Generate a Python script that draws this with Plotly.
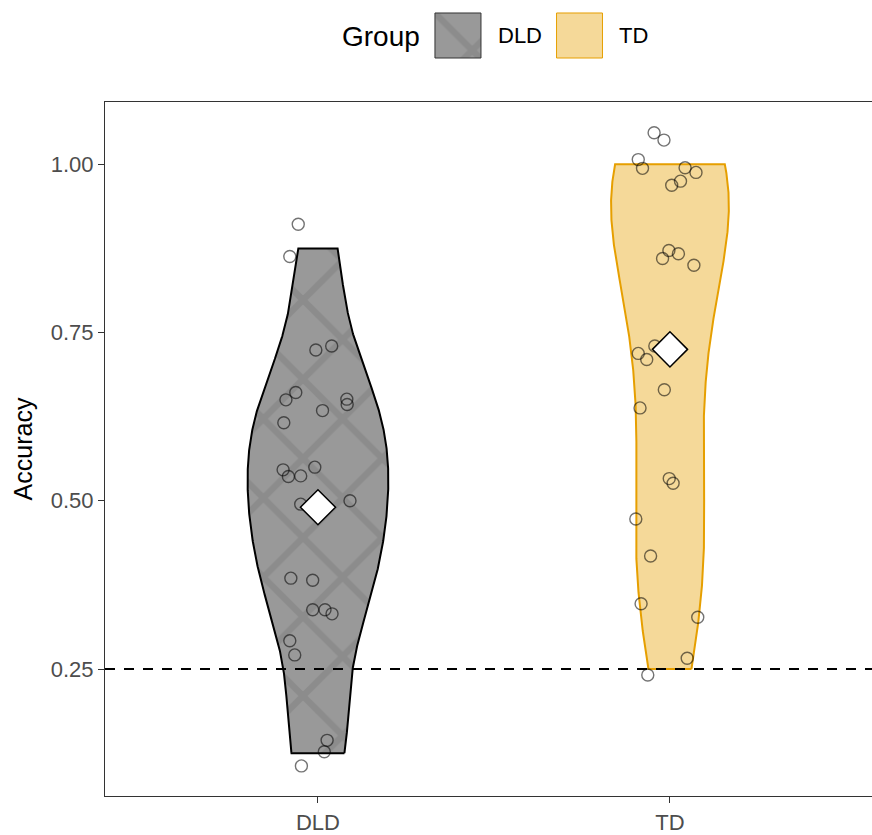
import numpy as np
import plotly.graph_objects as go

# ---------------- data ----------------
groups = ["DLD", "TD"]

# raw accuracy scores (multiples of 1/8)
dld_accuracy = [0.875, 0.875, 0.750, 0.750, 0.625, 0.625, 0.625, 0.625, 0.625, 0.625,
                0.500, 0.500, 0.500, 0.500, 0.500, 0.500, 0.375, 0.375, 0.375, 0.375,
                0.375, 0.250, 0.250, 0.125, 0.125, 0.125]
# jitter of each plotted point (horizontal in category units, vertical in accuracy units)
dld_x_jitter = [-0.056, -0.080, -0.006, 0.039, -0.063, -0.091, 0.082, 0.083, 0.013, -0.097,
                -0.099, -0.084, -0.049, -0.009, -0.049, 0.091, -0.077, -0.015, -0.015, 0.020,
                0.040, -0.080, -0.066, 0.026, 0.018, -0.047]
dld_y_jitter = [0.036, -0.012, -0.026, -0.020, 0.036, 0.025, 0.026, 0.018, 0.009, -0.009,
                0.046, 0.036, 0.037, 0.050, -0.005, 0.000, 0.010, 0.007, -0.037, -0.037,
                -0.043, 0.042, 0.021, 0.019, 0.002, -0.019]

td_accuracy = [1.000, 1.000, 1.000, 1.000, 1.000, 1.000, 1.000, 1.000, 0.875, 0.875,
               0.875, 0.875, 0.750, 0.750, 0.750, 0.625, 0.625, 0.500, 0.500, 0.500,
               0.375, 0.375, 0.375, 0.250, 0.250]
td_x_jitter = [-0.045, -0.017, -0.090, -0.078, 0.043, 0.074, 0.030, 0.005, -0.003, -0.021,
               0.024, 0.068, -0.043, -0.090, -0.066, -0.016, -0.085, -0.002, 0.009, -0.097,
               -0.055, -0.082, 0.079, 0.049, -0.063]
td_y_jitter = [0.047, 0.036, 0.007, -0.006, -0.005, -0.012, -0.025, -0.031, -0.003, -0.015,
               -0.008, -0.025, -0.020, -0.031, -0.040, 0.040, 0.013, 0.033, 0.026, -0.027,
               0.043, -0.028, -0.048, 0.016, -0.009]

chance_level = 0.25

y_tickvals = [0.25, 0.50, 0.75, 1.00]
y_ticktext = ["0.25", "0.50", "0.75", "1.00"]

# ---------------- helpers ----------------
FONT = "Liberation Sans, Arial, sans-serif"
VIOLIN_WIDTH = 0.4
HATCH = dict(shape="x", bgcolor="#999999", fgcolor="#7f7f7f", size=56, solidity=0.22)


def nrd0(x):
    x = np.asarray(x)
    sd = np.std(x, ddof=1)
    iqr = np.subtract(*np.percentile(x, [75, 25]))
    lo = min(sd, iqr / 1.34)
    return 0.9 * lo * len(x) ** (-0.2)


def kde(x, n=512):
    x = np.asarray(x)
    grid = np.linspace(x.min(), x.max(), n)
    bw = nrd0(x)
    d = np.exp(-0.5 * ((grid[:, None] - x[None, :]) / bw) ** 2).sum(1)
    d /= len(x) * bw * np.sqrt(2 * np.pi)
    return grid, d


g_dld, d_dld = kde(dld_accuracy)
g_td, d_td = kde(td_accuracy)
dmax = max(d_dld.max(), d_td.max())


def outline(pos, grid, dens):
    half = dens / dmax * VIOLIN_WIDTH / 2
    xs = np.concatenate([pos + half, (pos - half)[::-1], [pos + half[0]]])
    ys = np.concatenate([grid, grid[::-1], [grid[0]]])
    return xs, ys


fig = go.Figure()

# violins
xs, ys = outline(0, g_dld, d_dld)
fig.add_trace(go.Scatter(
    x=xs, y=ys, mode="lines", fill="toself",
    line=dict(color="black", width=2),
    fillpattern=HATCH,
    hoverinfo="skip", showlegend=False))

xs, ys = outline(1, g_td, d_td)
fig.add_trace(go.Scatter(
    x=xs, y=ys, mode="lines", fill="toself",
    line=dict(color="#E69F00", width=2),
    fillcolor="rgba(230,159,0,0.4)",
    hoverinfo="skip", showlegend=False))

# jittered points
series = [(dld_accuracy, dld_x_jitter, dld_y_jitter), (td_accuracy, td_x_jitter, td_y_jitter)]
for i, (vals, xj, yj) in enumerate(series):
    fig.add_trace(go.Scatter(
        x=[i + j for j in xj], y=[v + j for v, j in zip(vals, yj)], mode="markers",
        marker=dict(symbol="circle-open", size=12,
                    line=dict(width=1.4), color="rgba(0,0,0,0.55)"),
        showlegend=False, name=groups[i]))

# means
fig.add_trace(go.Scatter(
    x=[0, 1], y=[float(np.mean(dld_accuracy)), float(np.mean(td_accuracy))], mode="markers",
    marker=dict(symbol="diamond", size=27, color="white",
                line=dict(color="black", width=1.5)),
    showlegend=False))

# chance line
fig.add_hline(y=chance_level, line=dict(color="black", width=1.8, dash="10px,9px"))

# ---------------- legend (manual, ggplot style) ----------------
key_ydom = [0.9243, 0.9865]
sq_x = [0, 1, 1, 0, 0]
sq_y = [0, 0, 1, 1, 0]

fig.add_trace(go.Scatter(
    x=sq_x, y=sq_y, xaxis="x2", yaxis="y2", mode="lines", fill="toself",
    line=dict(color="#333333", width=1),
    fillpattern=HATCH,
    hoverinfo="skip", showlegend=False))
fig.add_trace(go.Scatter(
    x=sq_x, y=sq_y, xaxis="x3", yaxis="y3", mode="lines", fill="toself",
    line=dict(color="#E69F00", width=1),
    fillcolor="rgba(230,159,0,0.4)",
    hoverinfo="skip", showlegend=False))

hidden = dict(visible=False, range=[-0.05, 1.05], fixedrange=True)

fig.update_layout(
    width=872, height=835,
    margin=dict(l=105, r=0, t=0, b=39),
    paper_bgcolor="white", plot_bgcolor="white",
    font=dict(family=FONT, color="black"),
    xaxis=dict(range=[-0.605, 1.574], tickvals=[0, 1], ticktext=groups,
               showgrid=False, zeroline=False, showline=True, mirror=True,
               linecolor="#333333", linewidth=1.2,
               ticks="outside", ticklen=6, tickwidth=1.2, tickcolor="#333333",
               tickfont=dict(size=22, color="#4d4d4d", family=FONT)),
    yaxis=dict(domain=[0, 694 / 796], range=[0.0613, 1.0926],
               tickvals=y_tickvals, ticktext=y_ticktext,
               showgrid=False, zeroline=False, showline=True,
               linecolor="#333333", linewidth=1.2,
               ticks="outside", ticklen=6, tickwidth=1.2, tickcolor="#333333",
               tickfont=dict(size=22, color="#4d4d4d", family=FONT),
               title=dict(text="Accuracy", font=dict(size=25, color="black", family=FONT),
                          standoff=10)),
    xaxis2=dict(domain=[0.4272, 0.4932], anchor="y2", **hidden),
    yaxis2=dict(domain=key_ydom, anchor="x2", **hidden),
    xaxis3=dict(domain=[0.5857, 0.6516], anchor="y3", **hidden),
    yaxis3=dict(domain=key_ydom, anchor="x3", **hidden),
    showlegend=False,
)

fig.add_annotation(text="Group", xref="paper", yref="paper",
                   x=(340 - 105) / 767, y=(796 - 37) / 796,
                   xanchor="left", yanchor="middle", showarrow=False,
                   font=dict(size=28, color="black", family=FONT))
fig.add_annotation(text="DLD", xref="paper", yref="paper",
                   x=(496 - 105) / 767, y=(796 - 36) / 796,
                   xanchor="left", yanchor="middle", showarrow=False,
                   font=dict(size=22, color="black", family=FONT))
fig.add_annotation(text="TD", xref="paper", yref="paper",
                   x=(617 - 105) / 767, y=(796 - 36) / 796,
                   xanchor="left", yanchor="middle", showarrow=False,
                   font=dict(size=22, color="black", family=FONT))

fig.write_html("out.html")
